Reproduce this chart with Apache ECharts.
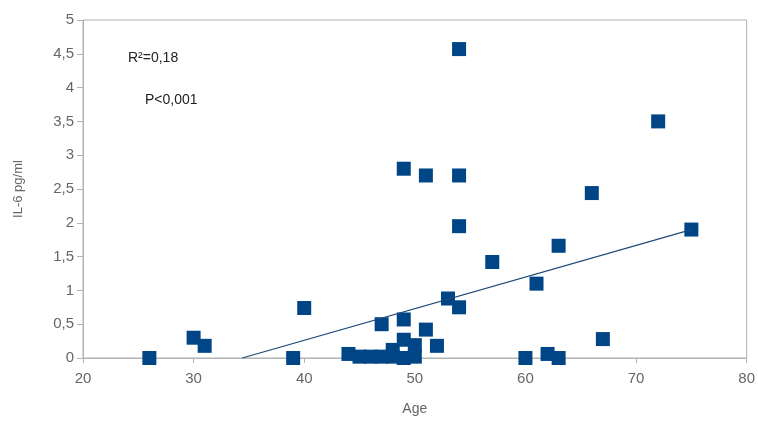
<!DOCTYPE html>
<html>
<head>
<meta charset="utf-8">
<script src="https://cdn.jsdelivr.net/npm/echarts@6/dist/echarts.min.js"></script>
<style>
html,body{margin:0;padding:0;background:#fff;}
#chart{width:758px;height:421px;}
</style>
</head>
<body>
<div id="chart"></div>
<script>
// Data
var ages = [26, 30, 31, 39, 40, 44, 45, 46, 47, 47, 48, 48, 49, 49, 49, 49, 50, 50, 51, 51, 52, 53, 54, 54, 54, 54, 57, 60, 61, 62, 63, 63, 66, 67, 72, 75];
var il6  = [0, 0.3, 0.18, 0, 0.74, 0.06, 0.02, 0.02, 0.02, 0.5, 0.12, 0.02, 0.27, 0, 0.57, 2.8, 0.19, 0.02, 0.42, 2.7, 0.18, 0.88, 0.75, 1.95, 2.7, 4.57, 1.42, 0, 1.1, 0.06, 0, 1.66, 2.44, 0.28, 3.5, 1.9];
var trendX = [34.4, 75];
var trendY = [0, 1.9];
var annotations = ['R\u00B2=0,18', 'P<0,001'];

var points = ages.map(function (a, i) { return [a, il6[i]]; });
var trend = trendX.map(function (x, i) { return [x, trendY[i]]; });

var chart = echarts.init(document.getElementById('chart'), null, {renderer: 'canvas'});
var grey = '#b3b3b3';
var labelColor = '#666666';
function comma(v) { return String(v).replace('.', ','); }

chart.setOption({
  animation: false,
  backgroundColor: '#ffffff',
  grid: {left: 83, top: 20, right: 9, bottom: 63, show: true, borderColor: grey, borderWidth: 1},
  xAxis: {
    type: 'value', min: 20, max: 80, interval: 10,
    name: 'Age', nameLocation: 'middle', nameGap: 44,
    nameTextStyle: {color: labelColor, fontSize: 14, fontFamily: 'Liberation Sans'},
    axisLine: {show: true, lineStyle: {color: grey}},
    axisTick: {show: true, length: 5, lineStyle: {color: grey}},
    axisLabel: {color: labelColor, fontSize: 15, fontFamily: 'Liberation Sans', margin: 13},
    splitLine: {show: false}
  },
  yAxis: {
    type: 'value', min: 0, max: 5, interval: 0.5,
    name: 'IL-6 pg/ml', nameLocation: 'middle', nameGap: 58, nameRotate: 90,
    nameTextStyle: {color: labelColor, fontSize: 13, fontFamily: 'Liberation Sans'},
    axisLine: {show: true, lineStyle: {color: grey}},
    axisTick: {show: true, length: 6, lineStyle: {color: grey}},
    axisLabel: {color: labelColor, fontSize: 15, fontFamily: 'Liberation Sans', margin: 9, formatter: comma},
    splitLine: {show: false}
  },
  graphic: [
    {type: 'text', left: 128, top: 51, style: {text: annotations[0], fill: '#222', fontSize: 14, fontFamily: 'Liberation Sans'}},
    {type: 'text', left: 145, top: 93, style: {text: annotations[1], fill: '#222', fontSize: 14, fontFamily: 'Liberation Sans'}}
  ],
  series: [
    {
      type: 'line', data: trend, symbol: 'none', z: 3,
      lineStyle: {color: '#1d4a78', width: 1.3}
    },
    {
      type: 'scatter', data: points, symbol: 'rect', symbolSize: 14, z: 2,
      itemStyle: {color: '#004586', opacity: 1}
    }
  ]
});
</script>
</body>
</html>
